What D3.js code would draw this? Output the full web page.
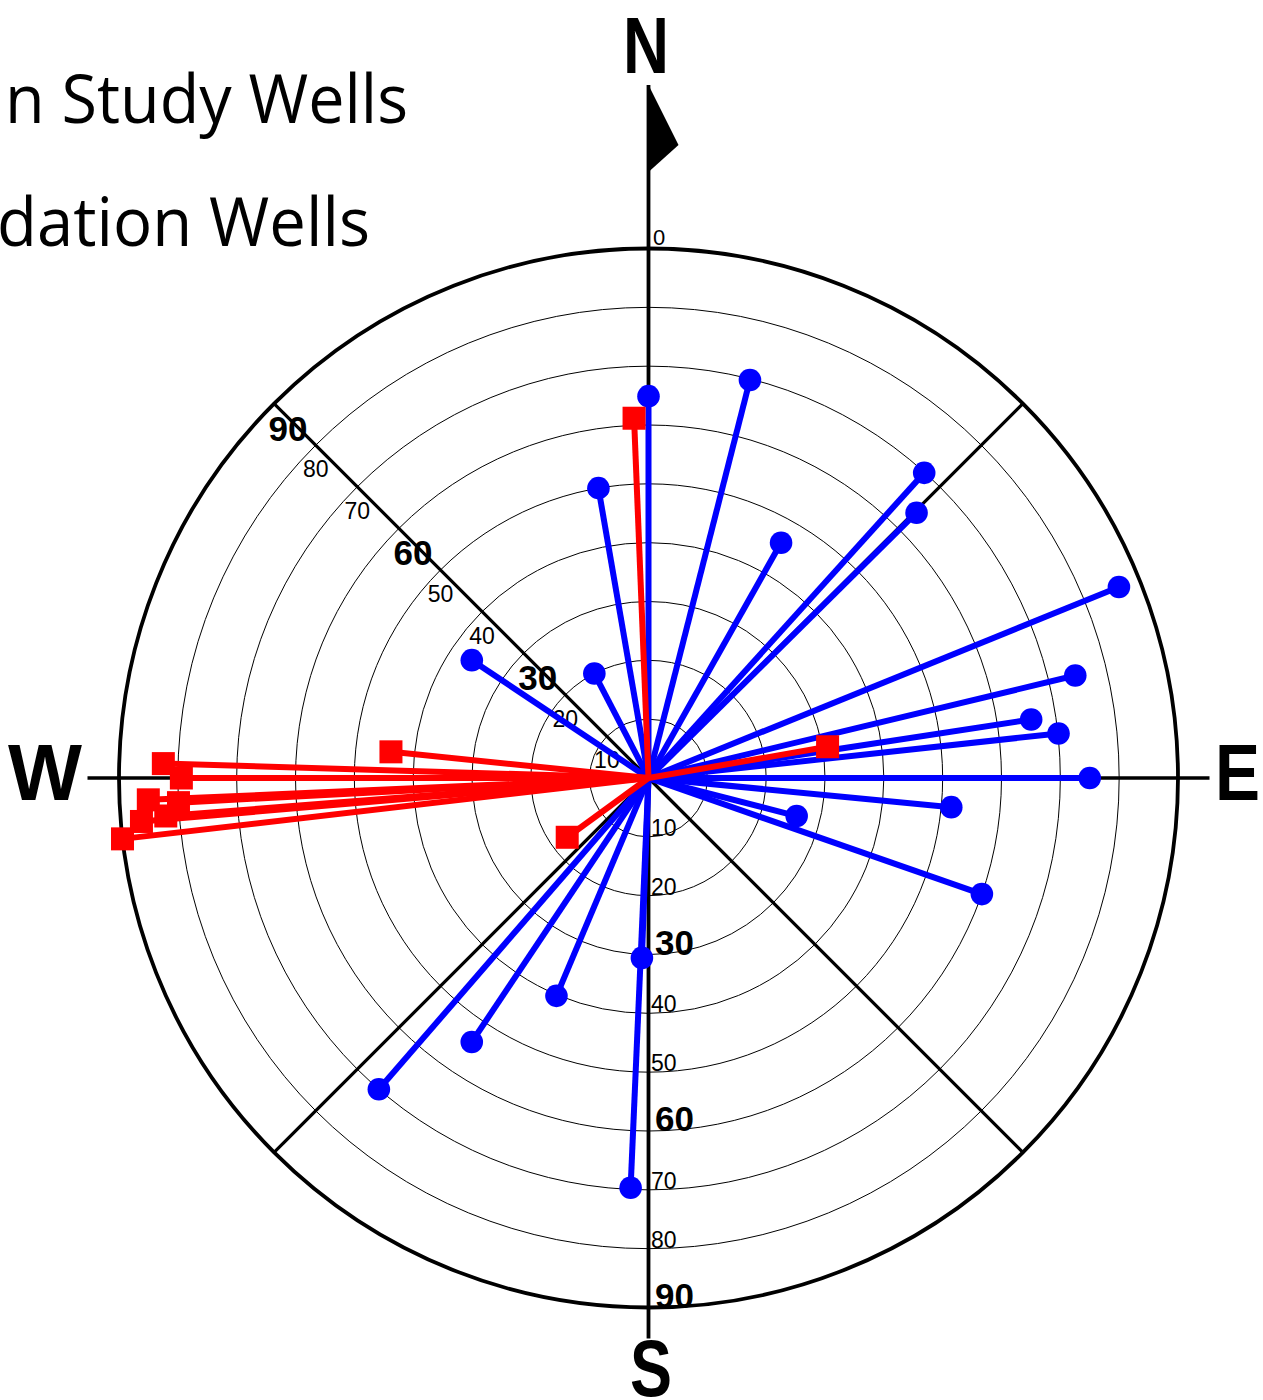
<!DOCTYPE html>
<html>
<head>
<meta charset="utf-8">
<script src="https://cdn.jsdelivr.net/npm/d3@7"></script>
<style>
  body { margin: 0; background: #fff; overflow: hidden; }
  svg { display: block; }
</style>
</head>
<body>
<div id="chart"></div>
<script>
// azimuth (deg clockwise from N) and magnitude of each well
const studyAzimuth = [0, 14.3, 350.2, 29.4, 42.1, 45.3, 67.9, 76.5, 81.3, 83.8, 90, 95.5, 104.4, 109.2, 182.1, 182.5, 202.9, 213.8, 220.9, 303.7, 332.6];
const studyValue   = [64.9, 69.8, 50.0, 45.9, 69.9, 64.1, 86.3, 74.6, 65.8, 70.1, 75.0, 51.7, 26.0, 60.0, 30.6, 69.7, 40.2, 54.0, 70.0, 36.1, 20.0];

const foundationAzimuth = [357.7, 80.1, 233.9, 275.8, 271.7, 270, 267.5, 267.0, 265.1, 265.5, 263.4];
const foundationValue   = [61.2, 30.9, 17.1, 44.0, 82.5, 79.4, 85.1, 80.0, 86.5, 82.3, 90.0];

const ringValues = [10, 20, 30, 40, 50, 60, 70, 80, 90];
const boldRings = [30, 60, 90];
const diagonals = [45, 135, 225, 315];
const legendLabels = ['n Study Wells', 'dation Wells'];

const width = 1263, height = 1400;
const cx = 648.5, cy = 778;

const svg = d3.select('#chart')
  .append('svg')
  .attr('width', width)
  .attr('height', height);

svg.append('rect').attr('width', width).attr('height', height).attr('fill', '#fff');

const r = d3.scaleLinear().domain([0, 90]).range([0, 529.5]);
const ang = d3.scaleLinear().domain([0, 360]).range([0, 2 * Math.PI]);
const pt = (az, v) => {
  const [x, y] = d3.pointRadial(ang(az), r(v));
  return [cx + x, cy + y];
};

// Rings
svg.selectAll('.ring')
  .data(ringValues)
  .enter()
  .append('circle')
  .attr('class', 'ring')
  .attr('cx', cx)
  .attr('cy', cy)
  .attr('r', d => r(d))
  .attr('fill', 'none')
  .attr('stroke', '#000')
  .attr('stroke-width', d => d === 90 ? 3.8 : 1);

// Diagonal spokes
svg.selectAll('.diag')
  .data(diagonals)
  .enter()
  .append('line')
  .attr('class', 'diag')
  .attr('x1', cx)
  .attr('y1', cy)
  .attr('x2', d => pt(d, 90)[0])
  .attr('y2', d => pt(d, 90)[1])
  .attr('stroke', '#000')
  .attr('stroke-width', 3.2);

// Main N-S and W-E axes (extend past the outer ring)
const ext = r(90) + 31.5;
svg.append('line')
  .attr('x1', cx).attr('x2', cx)
  .attr('y1', 85).attr('y2', cy + r(90) + 31)
  .attr('stroke', '#000').attr('stroke-width', 3.8);
svg.append('line')
  .attr('x1', cx - ext).attr('x2', cx + ext)
  .attr('y1', cy).attr('y2', cy)
  .attr('stroke', '#000').attr('stroke-width', 3.5);

// North flag
svg.append('path')
  .attr('d', `M${cx},85 L${cx + 30},145 L${cx},172 Z`)
  .attr('fill', '#000');

// Ring labels along NW spoke
const labelFont = 'Liberation Sans, Arial, Helvetica, sans-serif';
svg.selectAll('.nw-label')
  .data(ringValues)
  .enter()
  .append('text')
  .attr('class', 'nw-label')
  .attr('x', d => pt(315, d)[0] + (boldRings.includes(d) ? 14 : 0))
  .attr('y', d => pt(315, d)[1] + (boldRings.includes(d) ? 37 : 32))
  .attr('text-anchor', 'middle')
  .style('font-family', labelFont)
  .style('font-size', d => boldRings.includes(d) ? '35px' : '23px')
  .style('font-weight', d => boldRings.includes(d) ? 'bold' : 'normal')
  .text(d => d);

// Ring labels along S axis
svg.selectAll('.s-label')
  .data(ringValues)
  .enter()
  .append('text')
  .attr('class', 's-label')
  .attr('x', d => cx + (boldRings.includes(d) ? 6.5 : 2.5))
  .attr('y', d => pt(180, d)[1] - (boldRings.includes(d) ? 0 : 1))
  .attr('text-anchor', 'start')
  .style('font-family', labelFont)
  .style('font-size', d => boldRings.includes(d) ? '35px' : '23px')
  .style('font-weight', d => boldRings.includes(d) ? 'bold' : 'normal')
  .text(d => d);

// Azimuth zero label
svg.append('text')
  .attr('x', cx + 4.5)
  .attr('y', cy - r(90) - 4)
  .style('font-family', labelFont)
  .style('font-size', '22px')
  .text('0');

// Study wells (blue)
const study = studyAzimuth.map((a, i) => ({ az: a, v: studyValue[i] }));
const foundation = foundationAzimuth.map((a, i) => ({ az: a, v: foundationValue[i] }));

svg.selectAll('.study-line')
  .data(study)
  .enter()
  .append('line')
  .attr('class', 'study-line')
  .attr('x1', cx).attr('y1', cy)
  .attr('x2', d => pt(d.az, d.v)[0])
  .attr('y2', d => pt(d.az, d.v)[1])
  .attr('stroke', '#0000ff')
  .attr('stroke-width', 6);

svg.selectAll('.study-dot')
  .data(study)
  .enter()
  .append('circle')
  .attr('class', 'study-dot')
  .attr('cx', d => pt(d.az, d.v)[0])
  .attr('cy', d => pt(d.az, d.v)[1])
  .attr('r', 11.3)
  .attr('fill', '#0000ff');

// Foundation wells (red)
svg.selectAll('.found-line')
  .data(foundation)
  .enter()
  .append('line')
  .attr('class', 'found-line')
  .attr('x1', cx).attr('y1', cy)
  .attr('x2', d => pt(d.az, d.v)[0])
  .attr('y2', d => pt(d.az, d.v)[1])
  .attr('stroke', '#ff0000')
  .attr('stroke-width', 6);

const sq = 23;
svg.selectAll('.found-sq')
  .data(foundation)
  .enter()
  .append('rect')
  .attr('class', 'found-sq')
  .attr('x', d => pt(d.az, d.v)[0] - sq / 2)
  .attr('y', d => pt(d.az, d.v)[1] - sq / 2)
  .attr('width', sq)
  .attr('height', sq)
  .attr('fill', '#ff0000');

// Compass letters
const compass = [
  { t: 'N', x: 646, y: 72.5, len: 46 },
  { t: 'W', x: 45, y: 800, len: 74 },
  { t: 'E', x: 1237.5, y: 800, len: 45 },
  { t: 'S', x: 651, y: 1396, len: 42 }
];
svg.selectAll('.compass')
  .data(compass)
  .enter()
  .append('text')
  .attr('class', 'compass')
  .attr('x', d => d.x - d.len / 2)
  .attr('y', d => d.y)
  .attr('textLength', d => d.len)
  .attr('lengthAdjust', 'spacingAndGlyphs')
  .style('font-family', labelFont)
  .style('font-size', '80px')
  .style('font-weight', 'bold')
  .text(d => d.t);

// Legend text (cut off at the left edge)
const legendPos = [{ x: 5, y: 123, len: 403 }, { x: -3, y: 246, len: 373 }];
svg.selectAll('.legend')
  .data(legendLabels)
  .enter()
  .append('text')
  .attr('class', 'legend')
  .attr('x', (d, i) => legendPos[i].x)
  .attr('y', (d, i) => legendPos[i].y)
  .attr('textLength', (d, i) => legendPos[i].len)
  .attr('lengthAdjust', 'spacingAndGlyphs')
  .style('font-family', 'Open Sans, Noto Sans, sans-serif')
  .style('font-size', '68px')
  .text(d => d);
</script>
</body>
</html>
